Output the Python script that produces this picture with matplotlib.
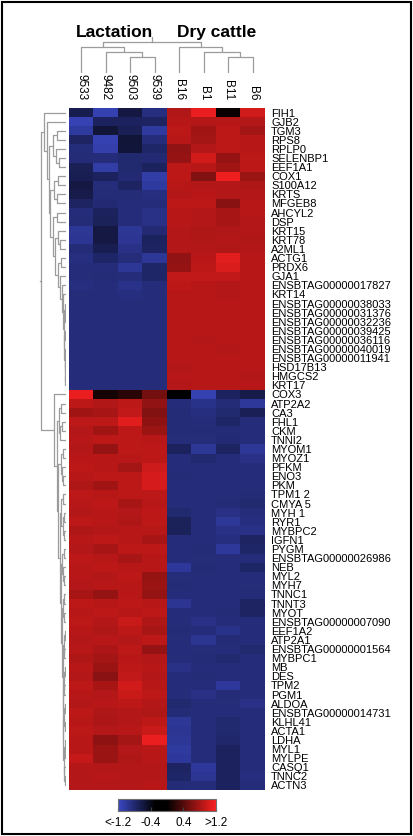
import numpy as np
import matplotlib
matplotlib.use('Agg')
import matplotlib.pyplot as plt
from matplotlib.colors import LinearSegmentedColormap
from matplotlib.patches import Rectangle

plt.rcParams['font.family'] = ['Liberation Sans', 'DejaVu Sans']

# %% data
samples = ['9533', '9482', '9503', '9539', 'B16', 'B1', 'B11', 'B6']
groups = ['Lactation', 'Dry cattle']

genes = ['FIH1', 'GJB2', 'TGM3', 'RPS8', 'RPLP0', 'SELENBP1', 'EEF1A1', 'COX1',
         'S100A12', 'KRTS', 'MFGEB8', 'AHCYL2', 'DSP', 'KRT15', 'KRT78', 'A2ML1',
         'ACTG1', 'PRDX6', 'GJA1', 'ENSBTAG00000017827', 'KRT14',
         'ENSBTAG00000038033', 'ENSBTAG00000031376', 'ENSBTAG00000032236',
         'ENSBTAG00000039425', 'ENSBTAG00000036116', 'ENSBTAG00000040019',
         'ENSBTAG00000011941', 'HSD17B13', 'HMGCS2', 'KRT17',
         'COX3', 'ATP2A2', 'CA3', 'FHL1', 'CKM', 'TNNI2', 'MYOM1', 'MYOZ1',
         'PFKM', 'ENO3', 'PKM', 'TPM1 2', 'CMYA 5', 'MYH 1', 'RYR1', 'MYBPC2',
         'IGFN1', 'PYGM', 'ENSBTAG00000026986', 'NEB', 'MYL2', 'MYH7', 'TNNC1',
         'TNNT3', 'MYOT', 'ENSBTAG00000007090', 'EEF1A2', 'ATP2A1',
         'ENSBTAG00000001564', 'MYBPC1', 'MB', 'DES', 'TPM2', 'PGM1', 'ALDOA',
         'ENSBTAG00000014731', 'KLHL41', 'ACTA1', 'LDHA', 'MYL1', 'MYLPE',
         'CASQ1', 'TNNC2', 'ACTN3']

# scaled expression, lactation samples (9533, 9482, 9503, 9539)
lactation = np.array([
    [-0.65, -1.10, -0.60, -0.88], [-1.12, -0.72, -0.72, -0.74],
    [-1.02, -0.55, -0.68, -1.02], [-0.74, -1.10, -0.55, -0.86],
    [-0.85, -1.08, -0.56, -0.76], [-0.84, -0.86, -0.80, -0.82],
    [-0.68, -1.05, -0.80, -0.72], [-0.66, -0.72, -0.82, -1.05],
    [-0.60, -0.86, -0.74, -1.02], [-0.62, -0.84, -0.84, -0.88],
    [-0.74, -0.82, -0.86, -0.86], [-0.86, -0.72, -0.86, -0.90],
    [-0.84, -0.70, -0.86, -0.90], [-0.98, -0.60, -0.98, -0.82],
    [-0.96, -0.60, -0.96, -0.72], [-0.84, -0.66, -0.90, -0.74],
    [-0.88, -0.76, -0.86, -0.98], [-0.86, -0.86, -0.98, -0.76],
    [-0.86, -0.84, -0.86, -0.76], [-0.88, -0.86, -0.92, -0.86],
    [-0.86, -0.86, -0.88, -0.86], [-0.86, -0.86, -0.86, -0.86],
    [-0.86, -0.86, -0.86, -0.86], [-0.86, -0.86, -0.86, -0.86],
    [-0.86, -0.86, -0.86, -0.86], [-0.86, -0.86, -0.86, -0.86],
    [-0.86, -0.86, -0.86, -0.86], [-0.86, -0.86, -0.86, -0.86],
    [-0.86, -0.86, -0.86, -0.86], [-0.86, -0.86, -0.86, -0.86],
    [-0.86, -0.86, -0.86, -0.86],
    [1.12, 0.10, 0.20, 0.55], [0.90, 0.85, 0.90, 0.70],
    [0.76, 0.80, 0.92, 0.62], [0.90, 0.90, 1.08, 0.68],
    [0.86, 0.76, 0.90, 0.74], [0.88, 0.90, 0.90, 0.88],
    [0.86, 0.72, 0.90, 0.90], [0.88, 0.88, 0.88, 0.90],
    [0.90, 0.88, 0.78, 0.98], [0.88, 0.90, 0.90, 1.02],
    [0.84, 0.76, 0.90, 1.02], [0.90, 0.88, 0.90, 0.90],
    [0.88, 0.90, 0.80, 0.88], [0.86, 0.88, 0.86, 0.90],
    [0.90, 0.88, 0.84, 0.90], [0.84, 0.86, 0.88, 0.88],
    [0.88, 0.90, 0.88, 0.80], [0.86, 0.80, 0.90, 0.90],
    [0.90, 0.88, 0.80, 0.88], [0.88, 0.90, 0.88, 0.88],
    [0.88, 0.86, 0.90, 0.72], [0.86, 0.88, 0.88, 0.74],
    [0.80, 0.72, 0.88, 0.72], [0.90, 0.88, 0.90, 0.88],
    [0.88, 0.90, 0.88, 0.90], [0.90, 0.86, 0.96, 0.84],
    [0.88, 0.84, 0.90, 0.80], [0.86, 0.88, 0.86, 0.90],
    [0.88, 0.82, 0.90, 0.72], [0.84, 0.78, 0.88, 0.86],
    [0.88, 0.74, 0.90, 0.88], [0.86, 0.66, 0.92, 0.86],
    [0.90, 0.80, 1.00, 0.88], [0.88, 0.86, 0.96, 0.90],
    [0.86, 0.88, 0.90, 0.86], [0.90, 0.84, 0.86, 0.84],
    [0.88, 0.82, 0.86, 0.90], [0.90, 0.86, 0.88, 0.96],
    [0.88, 0.68, 0.78, 1.12], [0.88, 0.74, 0.86, 0.88],
    [0.94, 0.74, 0.84, 0.88], [0.86, 0.86, 0.86, 0.86],
    [0.86, 0.88, 0.86, 0.86], [0.86, 0.86, 0.86, 0.88],
])

# scaled expression, dry cattle samples (B16, B1, B11, B6)
dry = np.array([
    [0.85, 1.12, 0.05, 1.00], [0.88, 0.86, 0.88, 0.86],
    [0.90, 0.76, 0.90, 0.78], [0.88, 0.78, 0.90, 0.88],
    [0.70, 0.86, 0.90, 0.88], [0.72, 1.00, 0.72, 0.90],
    [0.90, 0.88, 0.76, 0.90], [0.90, 0.62, 1.15, 0.74],
    [0.88, 0.86, 0.86, 0.84], [0.86, 0.88, 0.86, 0.86],
    [0.90, 0.90, 0.65, 0.88], [0.88, 0.86, 0.80, 0.88],
    [0.88, 0.86, 0.80, 0.86], [0.86, 0.84, 0.84, 0.86],
    [0.86, 0.84, 0.86, 0.84], [0.86, 0.86, 0.84, 0.86],
    [0.70, 0.88, 1.08, 0.88], [0.72, 0.90, 1.04, 0.88],
    [0.92, 0.92, 0.92, 0.88], [0.90, 0.88, 0.86, 0.88],
    [0.88, 0.88, 0.86, 0.88], [0.88, 0.88, 0.88, 0.88],
    [0.88, 0.88, 0.88, 0.88], [0.88, 0.88, 0.88, 0.88],
    [0.88, 0.88, 0.88, 0.88], [0.88, 0.86, 0.88, 0.88],
    [0.88, 0.88, 0.86, 0.88], [0.88, 0.88, 0.88, 0.88],
    [0.86, 0.88, 0.88, 0.88], [0.88, 0.88, 0.88, 0.86],
    [0.86, 0.88, 0.88, 0.88],
    [0.00, -1.10, -0.72, -0.62], [-0.86, -0.92, -0.84, -1.00],
    [-0.84, -0.88, -0.80, -0.68], [-0.84, -0.86, -0.76, -0.86],
    [-0.84, -0.84, -0.84, -0.86], [-0.86, -0.86, -0.82, -0.86],
    [-0.72, -0.98, -0.74, -0.98], [-0.86, -0.80, -0.86, -0.90],
    [-0.86, -0.86, -0.86, -0.86], [-0.84, -0.86, -0.86, -0.86],
    [-0.86, -0.86, -0.86, -0.86], [-0.86, -0.86, -0.86, -0.84],
    [-0.86, -0.86, -0.84, -0.80], [-0.80, -0.86, -0.90, -0.86],
    [-0.70, -0.86, -0.98, -0.88], [-0.70, -0.86, -0.90, -0.90],
    [-0.86, -0.86, -0.88, -0.74], [-0.86, -0.84, -1.00, -0.76],
    [-0.86, -0.86, -0.86, -0.86], [-1.00, -0.84, -0.86, -0.76],
    [-0.86, -0.86, -0.86, -0.86], [-0.84, -0.86, -0.86, -0.86],
    [-0.86, -0.86, -0.86, -0.84], [-0.96, -0.86, -0.86, -0.74],
    [-0.86, -0.86, -0.84, -0.74], [-0.86, -0.90, -0.86, -0.86],
    [-0.84, -0.86, -0.92, -0.86], [-0.86, -0.96, -0.84, -0.86],
    [-0.86, -0.86, -0.86, -0.80], [-0.86, -0.84, -0.80, -0.86],
    [-0.90, -0.86, -0.86, -0.86], [-0.86, -0.84, -0.86, -0.86],
    [-0.86, -0.86, -1.00, -0.86], [-0.86, -0.90, -0.84, -0.86],
    [-0.80, -0.86, -0.86, -0.90], [-0.84, -0.86, -0.86, -0.86],
    [-0.98, -0.86, -0.80, -0.86], [-0.96, -0.86, -0.80, -0.86],
    [-0.98, -0.86, -0.78, -0.86], [-1.02, -0.86, -0.72, -0.86],
    [-1.00, -0.86, -0.72, -0.86], [-0.74, -1.00, -0.72, -0.86],
    [-0.76, -0.96, -0.72, -0.88], [-0.84, -0.86, -0.72, -0.86],
])

values = np.hstack([lactation, dry])

# row clustering: (height, left, right), leaves = row index
top_tree = (0.88, 0,
    (0.76, 1,
     (0.68,
      (0.50, (0.34, 2, 3), (0.38, 4, (0.28, 5, 6))),
      (0.62,
       (0.46, (0.30, 7, 8), (0.36, 9, 10)),
       (0.50,
        (0.34, 11, 12),
        (0.44,
         (0.30, 13, (0.22, 14, 15)),
         (0.32,
          (0.20, 16, 17),
          (0.24, 18,
           (0.16, 19,
            (0.12, 20,
             (0.08,
              (0.04, 21, (0.02, 22, 23)),
              (0.06, (0.03, 24, 25),
               (0.05, 26, (0.04, (0.02, 27, 28), (0.03, 29, 30)))))))))))))))

bottom_tree = (0.48, 31,
    (0.36,
     (0.26, (0.20, 32, 33), (0.22, (0.14, 34, 35), 36)),
     (0.30,
      (0.20, (0.12, 37, 38), (0.16, 39, (0.10, 40, 41))),
      (0.24,
       (0.18, (0.10, 42, 43), (0.12, (0.08, 44, 45), (0.06, 46, 47))),
       (0.20,
        (0.14, (0.08, 48, 49), (0.10, 50, (0.06, 51, 52))),
        (0.16,
         (0.10, (0.06, 53, 54), (0.08, 55, 56)),
         (0.13,
          (0.09, (0.05, 57, 58), (0.07, 59, 60)),
          (0.11,
           (0.08, (0.05, 61, 62), (0.06, 63, 64)),
           (0.10,
            (0.07, (0.04, 65, 66), (0.05, 67, 68)),
            (0.08, (0.05, 69, (0.03, 70, 71)),
             (0.06, 72, (0.03, 73, 74))))))))))))

row_tree = (1.0, top_tree, bottom_tree)

# column clustering, heights in the same arbitrary units
col_tree = (31, (26, 0, (21, 1, (16, 2, 3))), (26, 4, (21, 5, (16, 6, 7))))

cbar_ticks = [-1.2, -0.4, 0.4, 1.2]
cbar_labels = ['<-1.2', '-0.4', '0.4', '>1.2']

# %% plotting
W, H = 414, 836
line_c = '#9c9c9c'


def draw_tree(ax, node, horizontal):
    if isinstance(node, int):
        return node + 0.5, 0.0
    h, left, right = node
    c1, h1 = draw_tree(ax, left, horizontal)
    c2, h2 = draw_tree(ax, right, horizontal)
    hs = [h1, h, h, h2]
    cs = [c1, c1, c2, c2]
    if horizontal:
        ax.plot(hs, cs, color=line_c, lw=0.9, solid_capstyle='butt')
    else:
        ax.plot(cs, hs, color=line_c, lw=0.9, solid_capstyle='butt')
    return (c1 + c2) / 2, h


cmap = LinearSegmentedColormap.from_list(
    'bkr', [(0.0, '#3b48c4'), (0.38, '#000000'), (0.5, '#000000'), (1.0, '#fa2020')])

fig = plt.figure(figsize=(W / 100, H / 100), dpi=100, facecolor='w')

hm_left, hm_top, hm_right, hm_bot = 69, 108, 265, 790
ax = fig.add_axes([hm_left / W, 1 - hm_bot / H, (hm_right - hm_left) / W, (hm_bot - hm_top) / H])
mesh = ax.pcolormesh(values, cmap=cmap, vmin=-1.2, vmax=1.2)
ax.set_xlim(0, 8)
ax.set_ylim(len(genes), 0)
for s in ax.spines.values():
    s.set_visible(False)
ax.yaxis.tick_right()
ax.set_yticks(np.arange(len(genes)) + 0.5)
ax.set_yticklabels(genes, fontsize=8)
ax.xaxis.tick_top()
ax.set_xticks(np.arange(len(samples)) + 0.5)
ax.set_xticklabels(samples, fontsize=8.5, rotation=270, va='bottom')
ax.tick_params(axis='both', length=0)
ax.tick_params(axis='y', pad=4.5)
ax.tick_params(axis='x', pad=5.5)

# row dendrogram
axr = fig.add_axes([38 / W, 1 - hm_bot / H, 28 / W, (hm_bot - hm_top) / H])
c_root, h_root = draw_tree(axr, row_tree, True)
axr.plot([h_root, h_root + 0.06], [c_root, c_root], color=line_c, lw=0.9)
axr.set_xlim(1.12, 0)
axr.set_ylim(len(genes), 0)
axr.axis('off')

# column dendrogram
axc = fig.add_axes([hm_left / W, 1 - 73 / H, (hm_right - hm_left) / W, 36 / H])
c_root, h_root = draw_tree(axc, col_tree, False)
axc.plot([c_root, c_root], [h_root, h_root + 5], color=line_c, lw=0.9)
axc.set_xlim(0, 8)
axc.set_ylim(0, 36)
axc.axis('off')

fig.text(115 / W, 1 - 37 / H, groups[0], ha='center', va='baseline',
         fontsize=12.5, fontweight='bold')
fig.text(217 / W, 1 - 37 / H, groups[1], ha='center', va='baseline',
         fontsize=12.5, fontweight='bold')

# colour key
cax = fig.add_axes([118 / W, 1 - 811 / H, 98 / W, 12 / H])
cb = fig.colorbar(mesh, cax=cax, orientation='horizontal', ticks=cbar_ticks)
cb.set_ticklabels(cbar_labels)
cb.ax.tick_params(labelsize=8.5, direction='in', length=3, width=0.8,
                  color='#404040', pad=4)
cb.outline.set_edgecolor('#707070')
cb.outline.set_linewidth(0.8)

fig.patches.append(Rectangle((2.5 / W, 2 / H), 408.5 / W, 832 / H, transform=fig.transFigure,
                             fill=False, lw=1.5, ec='black'))

plt.savefig('out.png', dpi=100)
